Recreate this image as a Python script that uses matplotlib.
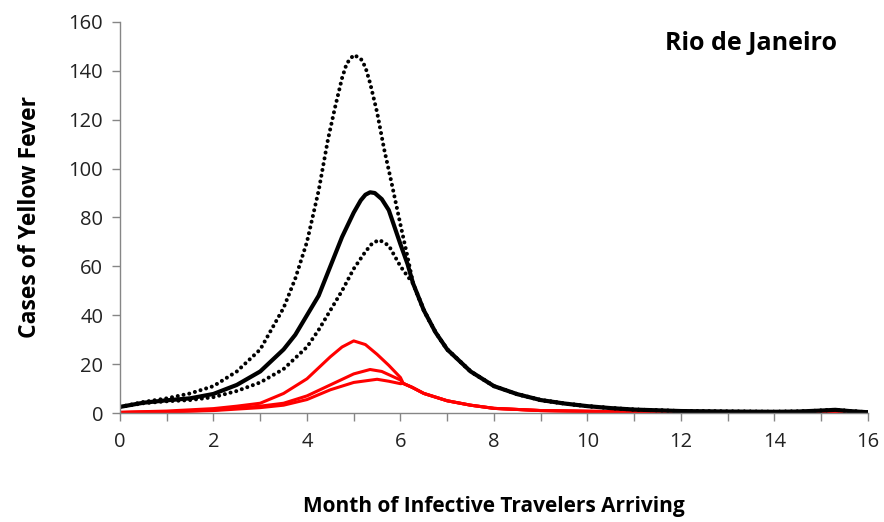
import matplotlib
matplotlib.use("Agg")
import matplotlib.pyplot as plt
from matplotlib.ticker import MultipleLocator

plt.rcParams['font.family'] = ['Open Sans', 'DejaVu Sans']

# values (month, cases)
rise_months_high = [0, 0.5, 1, 1.5, 2, 2.5, 3, 3.5, 3.75, 4, 4.25, 4.45, 4.6, 4.75, 4.85, 5.0,
                    5.15, 5.25, 5.35, 5.5, 5.65, 5.8, 6, 6.15]
dotted_high = [2.5, 4.5, 6, 8, 11, 17, 26, 43, 55, 70, 91, 112, 125, 137, 143, 146.5,
               145, 141.5, 135, 123, 108, 95, 77, 64]

rise_months_solid = [0, 0.5, 1, 1.5, 2, 2.5, 3, 3.5, 3.75, 4, 4.25, 4.5, 4.75, 5, 5.15, 5.25,
                     5.35, 5.45, 5.6, 5.75, 6, 6.15]
solid_black = [2.5, 4.2, 5.2, 6.0, 7.8, 11.5, 17, 26, 32, 40, 48, 60, 72, 82, 87, 89.3,
               90.3, 90, 87.5, 83, 69, 61]

rise_months_low = [0, 0.5, 1, 1.5, 2, 2.5, 3, 3.5, 4, 4.25, 4.5, 4.75, 5, 5.25, 5.4, 5.55,
                   5.75, 6, 6.15]
dotted_low = [2.5, 4, 4.8, 5.3, 6.5, 9, 12.5, 18, 27, 34, 42, 50, 59, 66, 69.5, 70.8,
              68.5, 60, 56]

# the three black curves share one tail after ~6.3 months
black_tail_months = [6.27, 6.5, 6.75, 7, 7.5, 8, 8.5, 9, 9.5, 10, 10.5, 11, 12, 13, 14, 14.5,
                     15, 15.3, 15.6, 16]
black_tail = [53, 42, 33, 26, 17, 11, 7.7, 5.3, 3.9, 2.8, 2.0, 1.4, 0.8, 0.6, 0.5, 0.6,
              1.0, 1.3, 0.8, 0.3]

red_months_high = [0, 1, 2, 2.5, 3, 3.5, 4, 4.5, 4.75, 5, 5.25, 5.5, 5.75, 6]
red_high = [0.3, 0.8, 1.8, 2.8, 4, 8, 14, 23, 27, 29.5, 28, 24, 19.5, 14.5]

red_months_mid = [0, 1, 2, 3, 3.5, 4, 4.5, 5, 5.35, 5.6, 6]
red_mid = [0.2, 0.5, 1.2, 2.8, 4, 7, 11.5, 16, 17.8, 17, 13.5]

red_months_low = [0, 1, 2, 3, 3.5, 4, 4.5, 5, 5.5, 5.75, 6]
red_low = [0.2, 0.5, 1, 2.2, 3.2, 5.5, 9.5, 12.5, 13.8, 13, 12.0]

red_tail_months = [6.06, 6.25, 6.5, 7, 7.5, 8, 9, 10, 11, 12, 13, 14, 15, 15.5]
red_tail = [12.1, 10.5, 8, 5.0, 3.2, 1.9, 1.0, 0.7, 0.5, 0.4, 0.3, 0.3, 0.4, 0.3]

x_ticks = [0, 2, 4, 6, 8, 10, 12, 14, 16]
y_ticks = [0, 20, 40, 60, 80, 100, 120, 140, 160]

fig = plt.figure(figsize=(8.84, 5.22), dpi=100)
ax = fig.add_axes([0.1357, 0.2088, 0.8462, 0.7492])

dots = (0, (0.01, 1.45))
ax.plot(red_months_low + red_tail_months, red_low + red_tail, color='#ff0000', lw=2.2)
ax.plot(red_months_mid + red_tail_months, red_mid + red_tail, color='#ff0000', lw=2.2)
ax.plot(red_months_high + red_tail_months, red_high + red_tail, color='#ff0000', lw=2.2)
ax.plot(rise_months_low + black_tail_months, dotted_low + black_tail, color='black',
        lw=2.9, linestyle=dots, dash_capstyle='round')
ax.plot(rise_months_high + black_tail_months, dotted_high + black_tail, color='black',
        lw=2.9, linestyle=dots, dash_capstyle='round')
ax.plot(rise_months_solid + black_tail_months, solid_black + black_tail, color='black', lw=3.0)

ax.set_xlim(0, 16)
ax.set_ylim(0, 160)
ax.set_xticks(x_ticks)
ax.set_yticks(y_ticks)
ax.xaxis.set_minor_locator(MultipleLocator(1))

for side in ['top', 'right']:
    ax.spines[side].set_visible(False)
for side in ['left', 'bottom']:
    ax.spines[side].set_color('#868686')
    ax.spines[side].set_linewidth(1.0)
ax.tick_params(axis='both', which='both', direction='out', color='#868686', width=1.0)
ax.tick_params(axis='both', which='major', length=6, labelsize=14.5, colors='#868686', labelcolor='#222222')
ax.tick_params(axis='x', which='minor', length=6)
ax.tick_params(axis='x', which='major', pad=8)
ax.tick_params(axis='y', which='major', pad=6)

ax.set_xlabel('Month of Infective Travelers Arriving', fontsize=15, fontweight='bold', labelpad=31)
ax.set_ylabel('Cases of Yellow Fever', fontsize=16.5, fontweight='bold', labelpad=19)
ax.text(0.8436, 0.944, 'Rio de Janeiro', transform=ax.transAxes, ha='center', va='center',
        fontsize=18, fontweight='bold')

fig.savefig('out.png', dpi=100)
